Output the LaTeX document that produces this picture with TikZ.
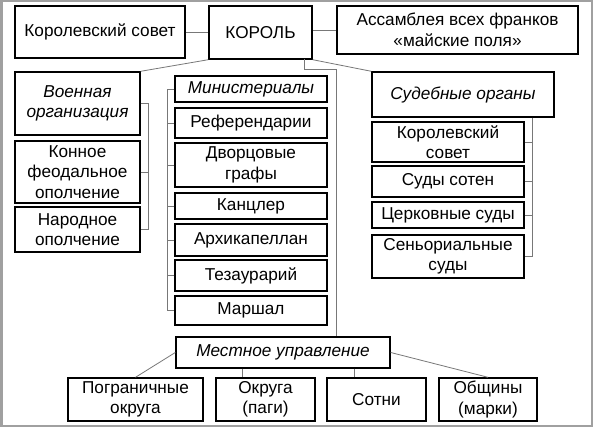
\documentclass[tikz,border=0pt]{standalone}
\usepackage{fontspec}
\setmainfont{Liberation Sans}
\usetikzlibrary{calc}
\definecolor{frame}{RGB}{160,160,160}
\definecolor{conn}{RGB}{120,120,120}
\newcommand\bx[6]{\node[box,minimum width={#4pt-#2pt},minimum height={#5pt-#3pt}] (#1) at ({(#2+#4)/2},{(#3+#5)/2}) {#6};}
\begin{document}
\begin{tikzpicture}[x=1pt,y=-1pt,
  box/.style={draw=black,line width=1.4pt,fill=white,inner sep=0pt,align=center,
    font=\fontsize{17.2}{20.5}\selectfont},
  ln/.style={draw=conn,line width=0.8pt}]
\useasboundingbox (0,0) rectangle (593,427);
\fill[white] (0,0) rectangle (593,427);
\draw[frame,line width=2.5pt] (1.25,1.25) rectangle (591.75,425.75);
% top row
\bx{rs}{15}{6}{185}{58}{Королевский совет}
\bx{king}{209}{6}{312}{59}{КОРОЛЬ}
\bx{asm}{337}{6}{578}{54}{Ассамблея всех франков\\«майские поля»}
% military
\bx{mil}{15}{72}{140}{135}{\itshape Военная\\\itshape организация}
\bx{kon}{15}{141}{140}{203}{Конное\\феодальное\\ополчение}
\bx{nar}{15}{207}{140}{252}{Народное\\ополчение}
% ministerials
\bx{min}{175}{76}{327}{102}{\itshape Министериалы}
\bx{ref}{175}{108}{327}{138}{Референдарии}
\bx{dvor}{175}{143}{327}{187}{Дворцовые\\графы}
\bx{kanc}{175}{193}{327}{219}{Канцлер}
\bx{arch}{175}{224}{327}{256}{Архикапеллан}
\bx{tez}{175}{260}{327}{291}{Тезаурарий}
\bx{mar}{175}{296}{327}{325}{Маршал}
% courts
\bx{sud}{372}{72}{554}{117}{\itshape Судебные органы}
\bx{krs}{372}{122}{524}{162}{Королевский\\совет}
\bx{sot}{372}{166}{524}{197}{Суды сотен}
\bx{cerk}{372}{202}{524}{228}{Церковные суды}
\bx{sen}{372}{235}{524}{278}{Сеньориальные\\суды}
% local
\bx{mest}{176}{337}{390}{368}{\itshape Местное управление}
\bx{pogr}{68}{378}{203}{421}{Пограничные\\округа}
\bx{okr}{216}{378}{315}{421}{Округа\\(паги)}
\bx{sotni}{327}{378}{426}{421}{Сотни}
\bx{obsch}{439}{378}{537}{421}{Общины\\(марки)}
% coordinates
\coordinate (kd) at (304,59);
\coordinate (kb) at (304,69);
\coordinate (spine) at (336,69);
\coordinate (mb) at (148,0);
\coordinate (nb) at (167,0);
\coordinate (sb) at (532,0);
\coordinate (lo) at (242,0);
\coordinate (ls) at (354,0);
% connectors
\draw[ln] (rs.east) -- (king.west |- rs.east);
\draw[ln] (asm.west) -- (asm.west -| king.east);
\draw[ln] (king.south west) -- (mil.north east);
\draw[ln] (king.south east) -- (sud.north west);
\draw[ln] (kd) -- (kb) -- (spine) -- (spine |- mest.north);
% military bracket
\draw[ln] (mil.east) -- (mil.east -| mb) -- (nar.east -| mb) -- (nar.east);
\draw[ln] (kon.east) -- (kon.east -| mb);
% ministerial bracket
\draw[ln] (min.west) -- (min.west -| nb) -- (mar.west -| nb) -- (mar.west);
\foreach \n in {ref,dvor,kanc,arch,tez} \draw[ln] (\n.west) -- (\n.west -| nb);
% courts bracket
\draw[ln] (sud.south -| sb) -- (sen.east -| sb) -- (sen.east);
\foreach \n in {krs,sot,cerk} \draw[ln] (\n.east) -- (\n.east -| sb);
% local
\draw[ln] (mest.west) -- (pogr.north);
\draw[ln] (mest.south -| lo) -- (okr.north -| lo);
\draw[ln] (mest.south -| ls) -- (sotni.north -| ls);
\draw[ln] (mest.east) -- (obsch.north);
\end{tikzpicture}
\end{document}
